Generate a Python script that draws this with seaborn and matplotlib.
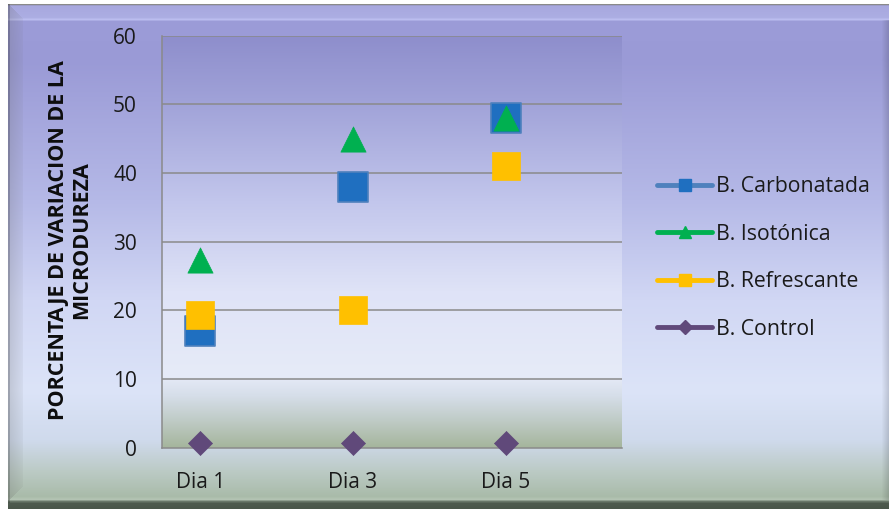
import numpy as np
import matplotlib
matplotlib.use("Agg")
import matplotlib.pyplot as plt
import matplotlib.colors as mcolors
from matplotlib.lines import Line2D
import seaborn as sns

# ---- data ----
dias = ["Dia 1", "Dia 3", "Dia 5"]
carbonatada = [17, 38, 48]
isotonica = [27.3, 45, 48]
refrescante = [19.3, 20, 41]
control = [0.6, 0.6, 0.6]
series_names = ["B. Carbonatada", "B. Isotónica", "B. Refrescante", "B. Control"]
y_ticks = [0, 10, 20, 30, 40, 50, 60]
y_label = "PORCENTAJE DE VARIACION DE LA\nMICRODUREZA"

sns.set_style("white")
plt.rcParams["font.family"] = ["Open Sans", "DejaVu Sans"]

W, H = 892, 509
fig = plt.figure(figsize=(W / 100, H / 100), dpi=100)


def ramp(stops, n):
    """Vertical colour ramp from (pixel_row, colour) stops."""
    pos = np.array([p for p, _ in stops], dtype=float)
    cols = np.array([mcolors.to_rgb(c) for _, c in stops])
    rows = np.arange(n)
    return np.stack([np.interp(rows, pos, cols[:, i]) for i in range(3)], axis=1)


# ---- bevelled panel background ----
bg = np.ones((H, W, 3))
panel = ramp([(3, "#ffffff"), (4, "#8a8a8a"), (5, "#9c9cc8"), (6, "#a8a8df"),
              (17, "#acaee3"), (19, "#bcbef0"), (21, "#9c9cd8"), (60, "#9a9ad6"),
              (200, "#b5b9e7"), (300, "#d1d7f4"), (390, "#dce4f8"),
              (440, "#cfdaec"), (470, "#bccbc6"), (496, "#a9bba9"),
              (499, "#b4c4b4"), (501, "#6a786a"), (503, "#4e5a4e"),
              (508, "#4a564a")], H)
bg[4:, 8:889] = panel[4:, None, :]
# left bevel strip
for x in range(8, 23):
    f = 0.76 + 0.012 * (x - 8)
    lo = 4 + (x - 8)
    hi = 501 - (x - 8)
    bg[lo:hi, x] = np.clip(panel[lo:hi] * f + (1 - f) * 0.4, 0, 1)
bg[4:503, 8:10] = bg[4:503, 8:10] * 0.82
# right edge shade
for x in range(882, 889):
    f = 1 - 0.02 * (x - 881)
    bg[20:500, x] = bg[20:500, x] * f
bg[:, 889:] = 1.0

bgax = fig.add_axes([0, 0, 1, 1], zorder=-10)
bgax.imshow(bg, extent=(0, 1, 0, 1), aspect="auto", interpolation="bilinear")
bgax.set_axis_off()

# ---- plot area ----
x0, x1, ytop, ybot = 162, 622, 35.5, 447.5
ax = fig.add_axes([x0 / W, 1 - ybot / H, (x1 - x0) / W, (ybot - ytop) / H])
ax.patch.set_alpha(0)
grad = ramp([(0, "#8e8ecc"), (65, "#a0a2d8"), (165, "#c2c6ec"), (255, "#dfe3f7"),
             (340, "#e6ebf8"), (360, "#d6dee9"), (385, "#bfcbc6"), (412, "#a5b59c")],
            413)
ax.imshow(grad[:, None, :].repeat(4, axis=1), extent=(0, 1, 0, 1),
          transform=ax.transAxes, aspect="auto", zorder=0, interpolation="bilinear")

styles = [
    dict(marker="s", s=470, color="#1f6fc0", edgecolor="#4f81bd", linewidth=1.2),
    dict(marker="^", s=330, color="#00b050", edgecolor="#00b050", linewidth=0.5),
    dict(marker="s", s=380, color="#ffc000", edgecolor="#ffc000", linewidth=0.5),
    dict(marker="D", s=150, color="#60497a", edgecolor="#60497a", linewidth=0.5),
]
for vals, st in zip([carbonatada, isotonica, refrescante, control], styles):
    sns.scatterplot(x=dias, y=vals, ax=ax, legend=False, zorder=4, clip_on=False, **st)

ax.set_xlim(-0.25, 2.76)
ax.set_ylim(0, 60)
ax.set_yticks(y_ticks)
ax.grid(False)
for t in y_ticks[1:]:
    ax.axhline(t, color="#8a8a8a", lw=1.1, zorder=1)
for side in ["top", "right"]:
    ax.spines[side].set_visible(False)
for side in ["left", "bottom"]:
    ax.spines[side].set_color("#8a8a8a")
    ax.spines[side].set_linewidth(1.1)
    ax.spines[side].set_zorder(2)
ax.tick_params(axis="both", length=0, labelsize=15, labelcolor="#1a1a1a")
ax.tick_params(axis="y", pad=18)
ax.tick_params(axis="x", pad=18)
ax.set_xlabel("")
ax.set_ylabel("")

fig.text(70 / W, 1 - 240 / H, y_label, rotation=90, ha="center", va="center",
         ma="center", fontsize=15.5, fontweight="bold", color="#0d0d0d",
         linespacing=1.1)

# ---- legend ----
handles = [
    Line2D([0], [0], color="#4f81bd", lw=3.5, marker="s", markersize=8,
           markerfacecolor="#1f6fc0", markeredgecolor="#1f6fc0"),
    Line2D([0], [0], color="#00b050", lw=3.5, marker="^", markersize=8,
           markerfacecolor="#00b050", markeredgecolor="#00b050"),
    Line2D([0], [0], color="#ffc000", lw=3.5, marker="s", markersize=8,
           markerfacecolor="#ffc000", markeredgecolor="#ffc000"),
    Line2D([0], [0], color="#60497a", lw=3.5, marker="D", markersize=7,
           markerfacecolor="#60497a", markeredgecolor="#60497a"),
]
fig.legend(handles, series_names, loc="center left",
           bbox_to_anchor=(657 / W, 1 - 258 / H), frameon=False,
           fontsize=15.3, handlelength=2.6, handletextpad=0.2,
           labelspacing=1.25, borderpad=0, borderaxespad=0,
           labelcolor="#1a1a1a")

fig.savefig("out.png", dpi=100)
